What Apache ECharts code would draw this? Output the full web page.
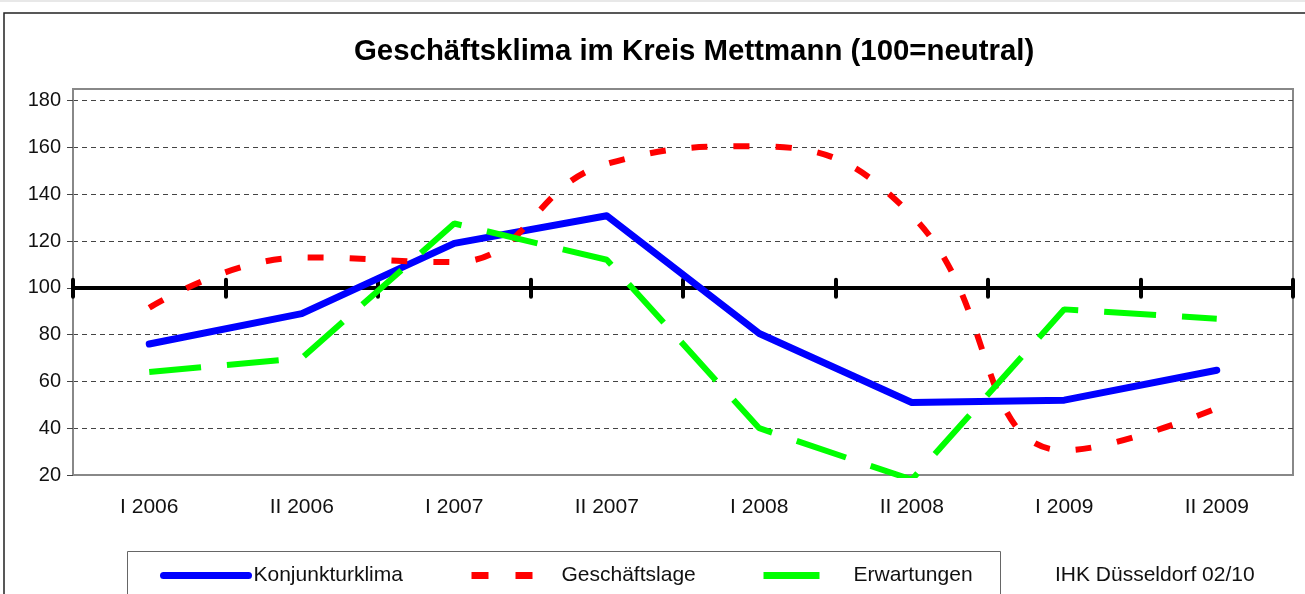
<!DOCTYPE html>
<html>
<head>
<meta charset="utf-8">
<script src="https://cdn.jsdelivr.net/npm/echarts@6/dist/echarts.min.js"></script>
<style>html,body{margin:0;padding:0;background:#fff;}#c{width:1305px;height:594px;}</style>
</head>
<body>
<div id="c"></div>
<script>
const categories = ['I 2006', 'II 2006', 'I 2007', 'II 2007', 'I 2008', 'II 2008', 'I 2009', 'II 2009'];
const konjunkturklima = [76, 89, 119, 130.8, 80.5, 51, 52, 64.8];
const geschaeftslage = [91.5, 113, 111, 153, 160.5, 131, 30.5, 48.5];
const erwartungen = [64, 70, 127.5, 112, 40, 18, 90.8, 86.8];
const yTicks = [20, 40, 60, 80, 100, 120, 140, 160, 180];
const seriesNames = ['Konjunkturklima', 'Geschäftslage', 'Erwartungen'];
const yMin = 20, yMax = 185, neutral = 100;

const FONT = 'Liberation Sans, Arial, sans-serif';
const gridTop = 89, gridBottom = 119, chartH = 594;
const gridH = chartH - gridTop - gridBottom;
const neutralOffset = -((neutral - yMin) / (yMax - yMin)) * gridH;

const lineColors = ['#0000ff', '#ff0000', '#00ff00'];
const lineDash = ['solid', [16, 26], [52, 26]];
const legendDash = ['solid', [17, 27], [56, 30]];
const legendLefts = [160, 468, 760];

const legends = seriesNames.map(function (n, i) {
  return {
    data: [{
      name: n,
      itemStyle: { color: 'transparent', borderWidth: 0, opacity: 0 },
      lineStyle: { color: lineColors[i], width: 7, type: legendDash[i], cap: i === 0 ? 'round' : 'butt' }
    }],
    left: legendLefts[i], top: 565,
    padding: 0,
    itemWidth: 85, itemHeight: 12,
    textStyle: { fontFamily: FONT, fontSize: 21, color: '#111' }
  };
});

const chart = echarts.init(document.getElementById('c'));
chart.setOption({
  backgroundColor: '#fff',
  animation: false,
  title: {
    text: 'Geschäftsklima im Kreis Mettmann (100=neutral)',
    left: 349, top: 32,
    textStyle: { fontFamily: FONT, fontSize: 29.4, fontWeight: 'bold', color: '#000' }
  },
  graphic: [
    { type: 'rect', shape: { x: 0, y: 0, width: 1305, height: 2 }, style: { fill: '#e8e8e8' }, silent: true },
    { type: 'rect', shape: { x: 4, y: 13, width: 1320, height: 620 }, style: { fill: 'none', stroke: '#222', lineWidth: 1.5 }, silent: true, z: 100 },
    { type: 'rect', shape: { x: 127.5, y: 551.5, width: 873, height: 60 }, style: { fill: 'none', stroke: '#666', lineWidth: 1 }, silent: true, z: 100 },
    { type: 'text', left: 1055, top: 565, style: { text: 'IHK Düsseldorf 02/10', font: '21px ' + FONT, fill: '#111' } }
  ],
  legend: legends,
  grid: {
    left: 73, right: 12, top: gridTop, bottom: gridBottom,
    show: true, borderColor: '#888', borderWidth: 2, backgroundColor: 'transparent'
  },
  xAxis: [
    {
      type: 'category', data: categories, position: 'bottom', boundaryGap: true,
      axisLine: { show: true, lineStyle: { color: '#888', width: 2 } },
      axisTick: { show: false },
      axisLabel: { fontFamily: FONT, fontSize: 21, color: '#111', margin: 22 },
      splitLine: { show: false }
    },
    {
      type: 'category', data: categories, position: 'bottom', boundaryGap: true, offset: neutralOffset,
      axisLine: { show: true, lineStyle: { color: '#000', width: 4 } },
      axisTick: { show: true, length: 9, lineStyle: { color: '#000', width: 4, cap: 'round' } },
      axisLabel: { show: false }, splitLine: { show: false }
    },
    {
      type: 'category', data: categories, position: 'bottom', boundaryGap: true, offset: neutralOffset,
      axisLine: { show: false },
      axisTick: { show: true, inside: true, length: 8, lineStyle: { color: '#000', width: 4, cap: 'round' } },
      axisLabel: { show: false }, splitLine: { show: false }
    }
  ],
  yAxis: {
    type: 'value', min: yMin, max: yMax, interval: 20,
    axisLine: { show: true, lineStyle: { color: '#888', width: 2 } },
    axisTick: { show: true, length: 6, customValues: yTicks, lineStyle: { color: '#444', width: 1 } },
    axisLabel: { fontFamily: FONT, fontSize: 20, color: '#111', margin: 12, customValues: yTicks },
    splitLine: { show: true, lineStyle: { color: '#444', width: 1, type: [5, 4] } }
  },
  series: [
    {
      name: seriesNames[0], type: 'line', data: konjunkturklima, xAxisIndex: 0,
      symbol: 'none', lineStyle: { color: lineColors[0], width: 7, cap: 'round', join: 'round' },
      itemStyle: { color: lineColors[0] }
    },
    {
      name: seriesNames[1], type: 'line', data: geschaeftslage, xAxisIndex: 0, smooth: 0.45,
      symbol: 'none', lineStyle: { color: lineColors[1], width: 6, type: lineDash[1], cap: 'butt' },
      itemStyle: { color: lineColors[1] }
    },
    {
      name: seriesNames[2], type: 'line', data: erwartungen, xAxisIndex: 0,
      symbol: 'none', lineStyle: { color: lineColors[2], width: 6, type: lineDash[2], cap: 'butt' },
      itemStyle: { color: lineColors[2] }
    }
  ]
});
</script>
</body>
</html>
